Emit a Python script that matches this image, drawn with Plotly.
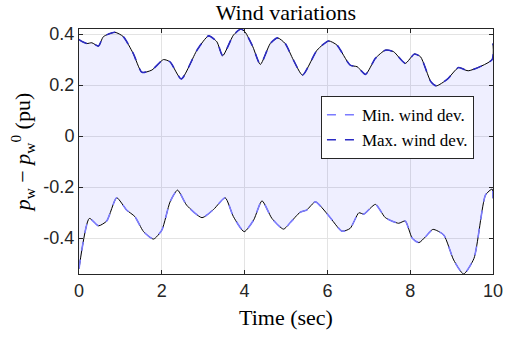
import plotly.graph_objects as go

# Upper envelope (max wind deviation)
t_max = [0.0, 0.02, 0.19, 0.31, 0.47, 0.59, 0.87, 1.07, 1.31, 1.52, 1.76, 2.04, 2.2, 2.47,
         2.85, 3.13, 3.33, 3.47, 3.73, 3.91, 4.01, 4.2, 4.38, 4.62, 4.8, 4.98, 5.18, 5.4,
         5.75, 6.03, 6.23, 6.55, 6.72, 6.92, 7.16, 7.4, 7.6, 7.88, 8.1, 8.25, 8.5, 8.63,
         8.89, 9.17, 9.4, 9.98, 10.0]
p_max = [0.38, 0.376, 0.363, 0.366, 0.353, 0.39, 0.407, 0.39, 0.324, 0.25, 0.259, 0.30, 0.291, 0.224,
         0.337, 0.393, 0.37, 0.315, 0.396, 0.42, 0.409, 0.35, 0.281, 0.363, 0.385, 0.363, 0.298, 0.239,
         0.337, 0.373, 0.357, 0.278, 0.272, 0.242, 0.305, 0.337, 0.331, 0.285, 0.322, 0.311, 0.213, 0.197,
         0.222, 0.269, 0.256, 0.30, 0.363]

# Lower envelope (min wind deviation)
t_min = [0.0, 0.25, 0.47, 0.67, 0.91, 1.15, 1.35, 1.56, 1.8, 2.0, 2.2, 2.38, 2.6, 2.97, 3.25,
         3.53, 3.73, 3.99, 4.22, 4.42, 4.66, 4.94, 5.1, 5.34, 5.5, 5.71, 6.03, 6.35, 6.55, 6.76,
         6.88, 7.16, 7.4, 7.72, 7.88, 8.05, 8.21, 8.37, 8.55, 8.81, 9.05, 9.29, 9.54, 9.82, 9.98, 10.0]
p_min = [-0.52, -0.323, -0.352, -0.333, -0.242, -0.29, -0.316, -0.375, -0.404, -0.369, -0.258, -0.212,
         -0.271, -0.32, -0.288, -0.242, -0.316, -0.375, -0.329, -0.254, -0.323, -0.365, -0.34, -0.299,
         -0.29, -0.258, -0.312, -0.373, -0.362, -0.301, -0.306, -0.268, -0.32, -0.342, -0.333, -0.401,
         -0.418, -0.395, -0.366, -0.388, -0.486, -0.541, -0.48, -0.231, -0.208, -0.244]

x_ticks = [0, 2, 4, 6, 8, 10]
y_ticks = [-0.4, -0.2, 0, 0.2, 0.4]
y_tick_labels = ["-0.4", "-0.2", "0", "0.2", "0.4"]

serif = "Liberation Serif"
sans = "Liberation Sans"
dark = "#262626"

fig = go.Figure()
shape = dict(shape="spline", smoothing=0.6)
fig.add_trace(go.Scatter(x=t_max, y=p_max, mode="lines", showlegend=False,
                         line=dict(color="black", width=1, **shape)))
fig.add_trace(go.Scatter(x=t_min, y=p_min, mode="lines", showlegend=False,
                         fill="tonexty", fillcolor="rgba(20,20,255,0.065)",
                         line=dict(color="black", width=1, **shape)))
fig.add_trace(go.Scatter(x=t_min, y=p_min, mode="lines", name="Min. wind dev.",
                         line=dict(color="#7b7bff", width=1.6, dash="dash", **shape)))
fig.add_trace(go.Scatter(x=t_max, y=p_max, mode="lines", name="Max. wind dev.",
                         line=dict(color="#2b2bc4", width=1.6, dash="dash", **shape)))

fig.update_layout(
    width=505, height=339,
    margin=dict(l=79, r=12, t=29, b=65, autoexpand=False),
    paper_bgcolor="white", plot_bgcolor="white",
    title=dict(text="Wind variations", x=0.566, xanchor="center", y=0.985, yanchor="top",
               font=dict(family=serif, size=22, color="black")),
    legend=dict(x=0.954, xanchor="right", y=0.726, yanchor="top",
                bgcolor="white", bordercolor=dark, borderwidth=1,
                font=dict(family=serif, size=17, color="black"),
                traceorder="normal", tracegroupgap=0, itemwidth=30),
    showlegend=True,
)
fig.update_xaxes(range=[0, 10], tickvals=x_ticks, ticks="inside", ticklen=4, tickcolor=dark,
                 showline=True, linecolor=dark, linewidth=1, mirror="ticks", automargin=False,
                 showgrid=True, gridcolor="#e3e3e3", zeroline=False,
                 tickfont=dict(family=sans, size=18, color=dark),
                 title=dict(text="Time (sec)", font=dict(family=serif, size=22, color="black"), standoff=10))
fig.update_yaxes(range=[-0.541, 0.42], tickvals=y_ticks, ticktext=y_tick_labels, ticks="inside",
                 ticklen=4, tickcolor=dark, automargin=False,
                 showline=True, linecolor=dark, linewidth=1, mirror="ticks",
                 showgrid=True, gridcolor="#e3e3e3", zeroline=False,
                 tickfont=dict(family=sans, size=18, color=dark),
                 title=dict(text="<i>p</i><sub>w</sub> − <i>p</i><sub>w</sub><sup>0</sup> (pu)",
                            font=dict(family=serif, size=22, color="black"), standoff=6))

fig.write_html("out.html")
